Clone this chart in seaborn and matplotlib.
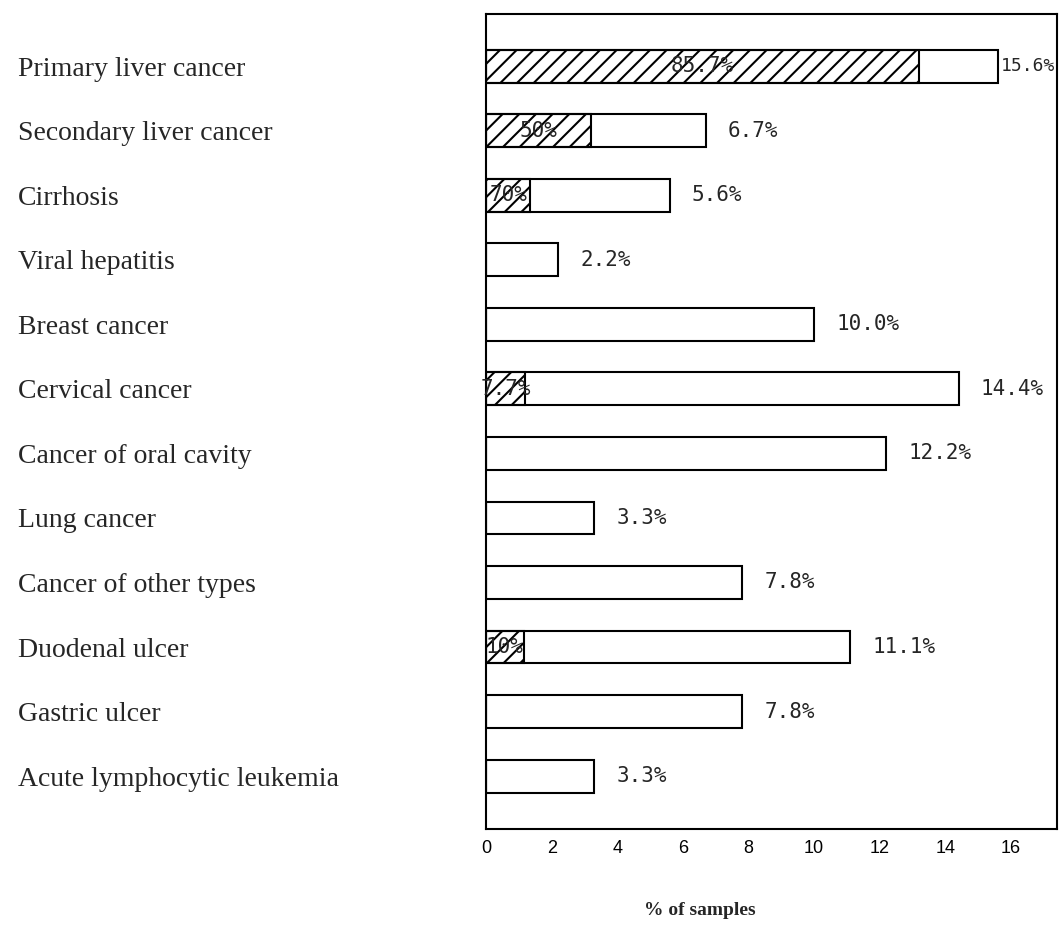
import numpy as np
import pandas as pd
import matplotlib
matplotlib.use("Agg")
import matplotlib.pyplot as plt
import seaborn as sns

# values
categories = [
    "Primary liver cancer",
    "Secondary liver cancer",
    "Cirrhosis",
    "Viral hepatitis",
    "Breast cancer",
    "Cervical cancer",
    "Cancer of oral cavity",
    "Lung cancer",
    "Cancer of other types",
    "Duodenal ulcer",
    "Gastric ulcer",
    "Acute lymphocytic leukemia",
]
totals = [15.6, 6.7, 5.6, 2.2, 10.0, 14.4, 12.2, 3.3, 7.8, 11.1, 7.8, 3.3]
hatched = [13.2, 3.2, 1.35, 0, 0, 1.2, 0, 0, 0, 1.15, 0, 0]
hatched_labels = ["85.7%", "50%", "70%", "", "", "7.7%", "", "", "", "10%", "", ""]
x_ticks = [0, 2, 4, 6, 8, 10, 12, 14, 16]
x_label = "% of samples"

df = pd.DataFrame({"disease": categories, "total": totals, "hatched": hatched})

sns.set_style("white")
plt.rcParams["hatch.linewidth"] = 1.5

W, H = 1059, 938
fig = plt.figure(figsize=(W / 100, H / 100), dpi=100)
ax = fig.add_axes([486 / W, 1 - 829 / H, (1057 - 486) / W, (829 - 14) / H])

# full bars (white), then the hatched share on top
sns.barplot(data=df, x="total", y="disease", order=categories, orient="h",
            color="white", edgecolor="black", linewidth=1.5, width=0.51,
            errorbar=None, ax=ax)
sns.barplot(data=df, x="hatched", y="disease", order=categories, orient="h",
            fill=False, color="black", linewidth=1.5, width=0.51, hatch="//",
            errorbar=None, ax=ax)

xmax = 17.4
ax.set_xlim(0, xmax)
ax.set_ylim(11.82, -0.81)

# value labels at bar ends
for i, v in enumerate(totals):
    if v + 1.9 < xmax:
        ax.annotate(f"{v:.1f}%", xy=(v, i), xytext=(16, 0), textcoords="offset points",
                    va="center", ha="left", family="DejaVu Sans Mono", fontsize=15)
    else:
        ax.annotate(f"{v:.1f}%", xy=(v, i), xytext=(2, 0), textcoords="offset points",
                    va="center", ha="left", family="DejaVu Sans Mono", fontsize=13)

# labels inside hatched part
for i, (h, lab) in enumerate(zip(hatched, hatched_labels)):
    if lab:
        ax.text(h / 2, i, lab, va="center", ha="center",
                family="DejaVu Sans Mono", fontsize=15)

ax.set_yticks(range(len(categories)))
ax.set_yticklabels(categories, ha="left", family="Liberation Serif", fontsize=20)
ax.tick_params(axis="y", length=0, pad=337)

ax.set_xticks(x_ticks)
ax.set_xticklabels([str(t) for t in x_ticks], family="Liberation Sans", fontsize=13)
ax.tick_params(axis="x", direction="in", length=5, width=1.5, pad=8, colors="black")
ax.set_xlabel("")
ax.set_ylabel("")

for s in ax.spines.values():
    s.set_visible(True)
    s.set_color("black")
    s.set_linewidth(1.5)

fig.text(700 / W, 1 - 910 / H, x_label, family="Liberation Serif",
         fontweight="bold", fontsize=14, ha="center", va="center")

fig.savefig("out.png", dpi=100)
plt.close(fig)
